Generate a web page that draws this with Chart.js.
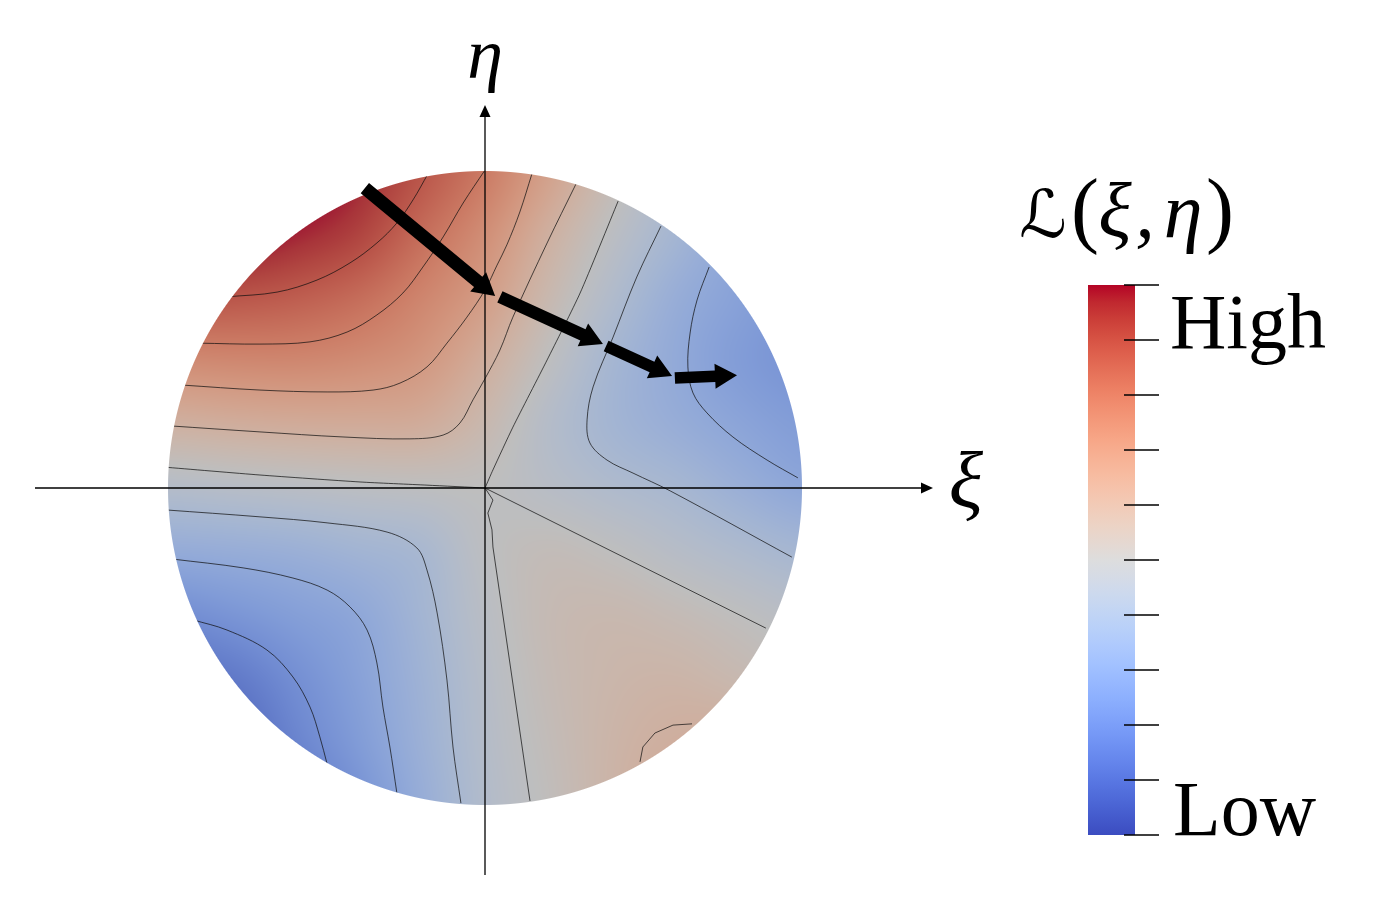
<!DOCTYPE html>
<html>
<head>
<meta charset="utf-8">
<script src="https://cdn.jsdelivr.net/npm/chart.js@4.4.0/dist/chart.umd.min.js"></script>
<style>
html,body{margin:0;padding:0;background:#ffffff;}
canvas{display:block;}
</style>
</head>
<body>
<canvas id="c" width="1392" height="904"></canvas>
<script>
// ---------- DATA ----------
// Loss field sampled on a grid (xi left->right, eta top->bottom), normalised 0 = Low, 1 = High
const xiGrid  = [-1, -0.8, -0.6, -0.4, -0.2, 0, 0.2, 0.4, 0.6, 0.8, 1];
const etaGrid = [1, 0.8, 0.6, 0.4, 0.2, 0, -0.2, -0.4, -0.6, -0.8, -1];
const lossRow1  = [1.10, 1.08, 1.05, 0.99, 0.90, 0.80, 0.67, 0.535, 0.42, 0.34, 0.29];
const lossRow2  = [1.05, 1.03, 0.99, 0.94, 0.84, 0.74, 0.605, 0.485, 0.385, 0.30, 0.25];
const lossRow3  = [0.91, 0.90, 0.88, 0.84, 0.77, 0.685, 0.553, 0.435, 0.335, 0.275, 0.23];
const lossRow4  = [0.75, 0.76, 0.762, 0.745, 0.708, 0.615, 0.497, 0.39, 0.315, 0.255, 0.22];
const lossRow5  = [0.60, 0.614, 0.624, 0.627, 0.62, 0.552, 0.453, 0.382, 0.334, 0.29, 0.255];
const lossRow6  = [0.45, 0.462, 0.474, 0.486, 0.495, 0.50, 0.468, 0.43, 0.397, 0.345, 0.30];
const lossRow7  = [0.32, 0.33, 0.346, 0.374, 0.403, 0.488, 0.52, 0.50, 0.462, 0.425, 0.39];
const lossRow8  = [0.19, 0.224, 0.263, 0.302, 0.38, 0.473, 0.535, 0.55, 0.53, 0.50, 0.47];
const lossRow9  = [0.09, 0.125, 0.20, 0.275, 0.363, 0.459, 0.53, 0.565, 0.575, 0.55, 0.52];
const lossRow10 = [0.0, 0.05, 0.16, 0.25, 0.35, 0.45, 0.52, 0.575, 0.61, 0.62, 0.60];
const lossRow11 = [-0.05, 0.0, 0.10, 0.21, 0.33, 0.44, 0.51, 0.58, 0.64, 0.64, 0.62];
const lossGrid = [lossRow1, lossRow2, lossRow3, lossRow4, lossRow5, lossRow6, lossRow7, lossRow8, lossRow9, lossRow10, lossRow11];

// Iso-loss contour lines [xi, eta]
const contour090  = [[-0.814,0.603],[-0.656,0.618],[-0.530,0.656],[-0.426,0.710],[-0.341,0.773],[-0.278,0.836],[-0.227,0.909],[-0.180,0.991]];
const contour080  = [[-0.902,0.457],[-0.710,0.454],[-0.552,0.461],[-0.435,0.492],[-0.341,0.546],[-0.259,0.615],[-0.196,0.697],[-0.132,0.792],[-0.069,0.899],[0,1.003]];
const contour070  = [[-0.959,0.325],[-0.710,0.309],[-0.498,0.303],[-0.353,0.309],[-0.268,0.331],[-0.183,0.382],[-0.120,0.457],[-0.057,0.539],[0,0.625],[0.038,0.703],[0.069,0.767],[0.110,0.871],[0.148,0.991]];
const contour060a = [[-0.994,0.196],[-0.710,0.177],[-0.448,0.161],[-0.237,0.155],[-0.132,0.167],[-0.079,0.205],[-0.038,0.278],[0,0.345],[0.047,0.435],[0.088,0.539],[0.196,0.773],[0.287,0.959]];
const contour060b = [[0.489,-0.864],[0.498,-0.817],[0.536,-0.773],[0.593,-0.748],[0.653,-0.744]];
const contour050a = [[-1.013,0.066],[-0.710,0.041],[-0.394,0.019],[-0.183,0.009],[0,0]];
const contour050b = [[0,0],[0.025,0.057],[0.088,0.192],[0.196,0.404],[0.300,0.615],[0.420,0.905]];
const contour050c = [[0,0],[0.025,-0.038],[0.009,-0.079],[0.022,-0.132],[0.025,-0.186],[0.142,-0.987]];
const contour050d = [[0,0],[0.886,-0.442]];
const contour040a = [[0.555,0.826],[0.479,0.666],[0.404,0.476],[0.341,0.319],[0.322,0.215],[0.331,0.142],[0.385,0.088],[0.467,0.047],[0.584,-0.009],[0.968,-0.218]];
const contour040b = [[-1.009,-0.069],[-0.710,-0.091],[-0.498,-0.110],[-0.309,-0.139],[-0.215,-0.189],[-0.183,-0.259],[-0.151,-0.394],[-0.120,-0.606],[-0.101,-0.817],[-0.076,-0.994]];
const contour030a = [[0.707,0.697],[0.669,0.593],[0.647,0.489],[0.640,0.382],[0.656,0.300],[0.700,0.237],[0.782,0.161],[0.890,0.088],[0.987,0.032]];
const contour030b = [[-0.987,-0.224],[-0.763,-0.252],[-0.606,-0.284],[-0.498,-0.322],[-0.426,-0.375],[-0.372,-0.448],[-0.341,-0.552],[-0.322,-0.691],[-0.300,-0.817],[-0.278,-0.962]];
const contour020  = [[-0.921,-0.416],[-0.814,-0.448],[-0.688,-0.511],[-0.606,-0.596],[-0.552,-0.691],[-0.521,-0.785],[-0.498,-0.871]];
const contourLines = [contour090, contour080, contour070, contour060a, contour060b, contour050a, contour050b, contour050c, contour050d, contour040a, contour040b, contour030a, contour030b, contour020];
const contourTension = [0.35, 0.35, 0.35, 0.35, 0, 0.2, 0.2, 0, 0, 0.35, 0.35, 0.35, 0.35, 0.35];

// Descent path (arrows): tail -> tip
const arrowTailXi  = [-0.379, 0.047, 0.382, 0.599];
const arrowTailEta = [0.946, 0.603, 0.448, 0.347];
const arrowTipXi   = [0.032, 0.372, 0.590, 0.795];
const arrowTipEta  = [0.606, 0.454, 0.353, 0.356];

// Axes extents
const xiAxis  = [-1.4196, 1.4132];
const etaAxis = [-1.2208, 1.2082];
const diskRadius = 1;

// Colour bar
const colorbarTicks = [0, 0.1, 0.2, 0.3, 0.4, 0.5, 0.6, 0.7, 0.8, 0.9, 1];
const colorbarLabels = ['Low', 'High'];

// cool-to-warm colour map
const cmapStops = [
 [59,76,192],[68,90,204],[77,104,215],[87,117,225],[98,130,234],[108,142,241],[119,154,247],[130,165,251],
 [141,176,254],[152,185,255],[163,194,255],[174,201,253],[184,208,249],[194,213,244],[204,217,238],[213,219,230],
 [221,221,221],[229,216,209],[236,211,197],[241,204,185],[245,196,173],[247,187,160],[247,177,148],[247,166,135],
 [244,154,123],[241,141,111],[236,127,99],[229,112,88],[222,96,77],[213,80,66],[203,62,56],[192,40,47],[180,4,38]
];

// ---------- helpers ----------
function cmap(v){
  v = Math.max(0, Math.min(1, v));
  const f = v * (cmapStops.length - 1);
  const i = Math.min(cmapStops.length - 2, Math.floor(f));
  const t = f - i;
  const a = cmapStops[i], b = cmapStops[i+1];
  return [a[0]+(b[0]-a[0])*t, a[1]+(b[1]-a[1])*t, a[2]+(b[2]-a[2])*t];
}
function cr(p0,p1,p2,p3,t){
  return p1 + 0.5*t*(p2-p0 + t*(2*p0-5*p1+4*p2-p3 + t*(3*(p1-p2)+p3-p0)));
}
function field(xi, eta){
  const n = xiGrid.length, m = etaGrid.length;
  const gx = (xi - xiGrid[0]) / (xiGrid[1]-xiGrid[0]);
  const gy = (etaGrid[0] - eta) / (etaGrid[0]-etaGrid[1]);
  let ix = Math.max(0, Math.min(n-2, Math.floor(gx)));
  let iy = Math.max(0, Math.min(m-2, Math.floor(gy)));
  const tx = Math.max(0, Math.min(1, gx-ix)), ty = Math.max(0, Math.min(1, gy-iy));
  const g = (r,c) => lossGrid[Math.max(0,Math.min(m-1,r))][Math.max(0,Math.min(n-1,c))];
  const rows = [];
  for (let k=-1;k<=2;k++) rows.push(cr(g(iy+k,ix-1),g(iy+k,ix),g(iy+k,ix+1),g(iy+k,ix+2),tx));
  return cr(rows[0],rows[1],rows[2],rows[3],ty);
}

// surface lighting of the disk (muted colours)
const SHADE_GAIN = 0.76, SHADE_OFFSET = 22;

const landscapePlugin = {
  id: 'landscape',
  beforeDatasetsDraw(chart){
    const ctx = chart.ctx, xs = chart.scales.x, ys = chart.scales.y;
    const cx = xs.getPixelForValue(0), cy = ys.getPixelForValue(0);
    const R = xs.getPixelForValue(diskRadius) - cx;
    const x0 = Math.floor(cx-R-2), y0 = Math.floor(cy-R-2);
    const W = Math.ceil(2*R+4), H = W;
    const off = document.createElement('canvas'); off.width = W; off.height = H;
    const octx = off.getContext('2d');
    const img = octx.createImageData(W, H); const d = img.data;
    for (let j=0;j<H;j++){
      const eta = ys.getValueForPixel(y0+j+0.5);
      for (let i=0;i<W;i++){
        const xi = xs.getValueForPixel(x0+i+0.5);
        const r = Math.hypot(xi, eta);
        const a = Math.max(0, Math.min(1, (diskRadius - r)*R + 0.5));
        if (a <= 0) continue;
        const c = cmap(field(xi, eta));
        const k = (j*W+i)*4;
        d[k]   = c[0]*SHADE_GAIN + SHADE_OFFSET;
        d[k+1] = c[1]*SHADE_GAIN + SHADE_OFFSET;
        d[k+2] = c[2]*SHADE_GAIN + SHADE_OFFSET;
        d[k+3] = a*255;
      }
    }
    octx.putImageData(img, 0, 0);
    ctx.drawImage(off, x0, y0);
    ctx.save();
    ctx.beginPath(); ctx.arc(cx, cy, R, 0, Math.PI*2); ctx.clip();
  },
  afterDatasetsDraw(chart){
    const ctx = chart.ctx, xs = chart.scales.x, ys = chart.scales.y;
    ctx.restore();
    const X = v => xs.getPixelForValue(v), Y = v => ys.getPixelForValue(v);
    ctx.save();
    ctx.strokeStyle = '#000'; ctx.fillStyle = '#000'; ctx.lineWidth = 1.3;
    // axes with arrow heads
    const ax0 = X(xiAxis[0]), ax1 = X(xiAxis[1]), ay = Y(0);
    ctx.beginPath(); ctx.moveTo(ax0, ay); ctx.lineTo(ax1-10, ay); ctx.stroke();
    ctx.beginPath(); ctx.moveTo(ax1, ay); ctx.lineTo(ax1-12, ay-5.5); ctx.lineTo(ax1-12, ay+5.5); ctx.closePath(); ctx.fill();
    const bx = X(0), by0 = Y(etaAxis[0]), by1 = Y(etaAxis[1]);
    ctx.beginPath(); ctx.moveTo(bx, by0); ctx.lineTo(bx, by1+10); ctx.stroke();
    ctx.beginPath(); ctx.moveTo(bx, by1); ctx.lineTo(bx-5.5, by1+12); ctx.lineTo(bx+5.5, by1+12); ctx.closePath(); ctx.fill();
    // descent arrows
    const shaftW = [13, 12.5, 11.5, 11.5];
    for (let i=0;i<arrowTailXi.length;i++){
      const x1 = X(arrowTailXi[i]), y1 = Y(arrowTailEta[i]);
      const x2 = X(arrowTipXi[i]),  y2 = Y(arrowTipEta[i]);
      const L = Math.hypot(x2-x1, y2-y1), ux = (x2-x1)/L, uy = (y2-y1)/L;
      const nx = -uy, ny = ux;
      const hl = 22, hw = 12.5, sw = shaftW[i]/2;
      const bxp = x2 - ux*hl, byp = y2 - uy*hl;
      ctx.beginPath();
      ctx.moveTo(x1 + nx*sw, y1 + ny*sw);
      ctx.lineTo(bxp + nx*sw, byp + ny*sw);
      ctx.lineTo(bxp + nx*hw, byp + ny*hw);
      ctx.lineTo(x2, y2);
      ctx.lineTo(bxp - nx*hw, byp - ny*hw);
      ctx.lineTo(bxp - nx*sw, byp - ny*sw);
      ctx.lineTo(x1 - nx*sw, y1 - ny*sw);
      ctx.closePath(); ctx.fill();
    }
    // axis labels
    ctx.textAlign = 'center'; ctx.textBaseline = 'alphabetic';
    ctx.font = 'italic 72px "Liberation Serif", "DejaVu Serif", serif';
    ctx.fillText('η', 485, 78);
    ctx.font = 'italic 80px "Liberation Serif", "DejaVu Serif", serif';
    ctx.fillText('ξ', 966, 507);
    // colour bar
    const cbL = 1088, cbR = 1135, cbT = 285, cbB = 835;
    const cbY = v => cbB - (cbB-cbT)*v;
    const grad = ctx.createLinearGradient(0, cbB, 0, cbT);
    cmapStops.forEach((c, i) => grad.addColorStop(i/(cmapStops.length-1), 'rgb('+c[0]+','+c[1]+','+c[2]+')'));
    ctx.fillStyle = grad; ctx.fillRect(cbL, cbT, cbR-cbL, cbB-cbT);
    ctx.strokeStyle = '#000'; ctx.lineWidth = 1.6;
    colorbarTicks.forEach(t => { const y = Math.round(cbY(t)); ctx.beginPath(); ctx.moveTo(1124, y); ctx.lineTo(1159, y); ctx.stroke(); });
    ctx.fillStyle = '#000'; ctx.textAlign = 'left';
    ctx.font = '78px "Liberation Serif", "DejaVu Serif", serif';
    ctx.fillText(colorbarLabels[1], 1170, 348);
    ctx.fillText(colorbarLabels[0], 1173, 835);
    // colour bar title  L(xi, eta)
    ctx.textAlign = 'center';
    ctx.font = 'italic 66px "Liberation Serif", "DejaVu Serif", "DejaVu Sans", serif';
    ctx.fillText('ℒ', 1043, 237);
    ctx.font = '84px "Liberation Serif", "DejaVu Serif", serif';
    ctx.fillText('(', 1085, 237);
    ctx.fillText(')', 1220, 237);
    ctx.font = 'italic 78px "Liberation Serif", "DejaVu Serif", serif';
    ctx.fillText('ξ', 1115, 237);
    ctx.fillText(',', 1145, 237);
    ctx.fillText('η', 1183, 237);
    ctx.restore();
  }
};

const datasets = contourLines.map((pts, i) => ({
  data: pts.map(p => ({x: p[0], y: p[1]})),
  showLine: true,
  pointRadius: 0,
  borderColor: 'rgba(15,15,15,0.9)',
  borderWidth: 0.8,
  tension: contourTension[i],
  fill: false
}));

new Chart(document.getElementById('c'), {
  type: 'scatter',
  data: { datasets },
  options: {
    responsive: false,
    animation: false,
    events: [],
    layout: { padding: 0 },
    plugins: { legend: { display: false }, tooltip: { enabled: false }, title: { display: false } },
    scales: {
      x: { type: 'linear', min: -485/317, max: (1392-485)/317, display: false },
      y: { type: 'linear', min: -(904-488)/317, max: 488/317, display: false }
    }
  },
  plugins: [landscapePlugin]
});
</script>
</body>
</html>
